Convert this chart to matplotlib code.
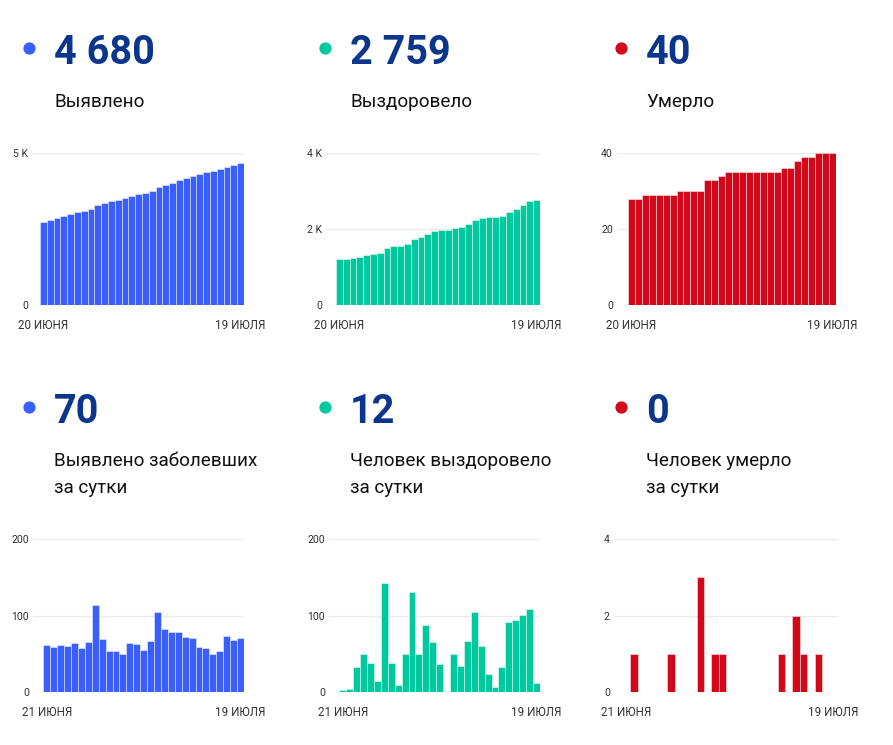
import matplotlib
matplotlib.use("Agg")
import matplotlib.pyplot as plt
from matplotlib.lines import Line2D

# ---- data ----
top_dates = ["20 ИЮНЯ", "19 ИЮЛЯ"]
bottom_dates = ["21 ИЮНЯ", "19 ИЮЛЯ"]

cases_total = [2744, 2805, 2864, 2926, 2986, 3050, 3108, 3173, 3287, 3356,
               3409, 3463, 3513, 3577, 3640, 3695, 3762, 3866, 3949, 4028,
               4107, 4179, 4249, 4308, 4366, 4416, 4469, 4542, 4610, 4680]
recovered_total = [1220, 1223, 1227, 1260, 1310, 1348, 1363, 1505, 1543, 1552,
                   1602, 1733, 1783, 1871, 1936, 1973, 1973, 2023, 2057, 2124,
                   2228, 2288, 2312, 2319, 2352, 2444, 2538, 2639, 2747, 2759]
deaths_total = [28, 28, 29, 29, 29, 29, 29, 30, 30, 30,
                30, 33, 33, 34, 35, 35, 35, 35, 35, 35,
                35, 35, 36, 36, 38, 39, 39, 40, 40, 40]

cases_daily = [61, 59, 62, 60, 64, 58, 65, 114, 69, 53,
               54, 50, 64, 63, 55, 67, 104, 83, 79, 79,
               72, 70, 59, 58, 50, 53, 73, 68, 70]
recovered_daily = [3, 4, 33, 50, 38, 15, 142, 38, 9, 50,
                   131, 50, 88, 65, 37, 0, 50, 34, 67, 104,
                   60, 24, 7, 33, 92, 94, 101, 108, 12]
deaths_daily = [0, 1, 0, 0, 0, 0, 1, 0, 0, 0,
                3, 0, 1, 1, 0, 0, 0, 0, 0, 0,
                0, 1, 0, 2, 1, 0, 1, 0, 0]

top_numbers = ["4 680", "2 759", "40"]
bottom_numbers = ["70", "12", "0"]
top_labels = [["Выявлено"], ["Выздоровело"], ["Умерло"]]
bottom_labels = [["Выявлено заболевших", "за сутки"],
                 ["Человек выздоровело", "за сутки"],
                 ["Человек умерло", "за сутки"]]

yticks = [[0, 5000], [0, 2000, 4000], [0, 20, 40],
          [0, 100, 200], [0, 100, 200], [0, 2, 4]]
ytick_labels = [["0", "5 K"], ["0", "2 K", "4 K"], ["0", "20", "40"],
                ["0", "100", "200"], ["0", "100", "200"], ["0", "2", "4"]]

colors = ["#3a5ffc", "#00c99f", "#d0081a"]
navy = "#0b368c"

W, H = 893, 745
plt.rcParams['font.family'] = ['Roboto', 'DejaVu Sans']
fig = plt.figure(figsize=(W / 100, H / 100), dpi=100)


def fx(x):
    return x / W


def fy(y):
    return 1 - y / H


# grid left, bar left, bar right, top value y, zero y (pixels)
boxes = [(32, 40, 244, 153, 305), (326, 336, 540, 153, 305), (617, 628, 836, 153, 305),
         (33, 43.3, 244, 539, 692), (329, 339.3, 540, 539, 692), (614, 623, 836.7, 539, 692)]
series = [cases_total, recovered_total, deaths_total,
          cases_daily, recovered_daily, deaths_daily]

for i, (vals, box) in enumerate(zip(series, boxes)):
    gl, bl, br, top, zero = box
    n = len(vals)
    unit = (br - bl) / n
    pad = (bl - gl) / unit
    ax = fig.add_axes([fx(gl), fy(zero), (br - gl) / W, (zero - top) / H])
    ax.bar(range(n), vals, width=1.0, color=colors[i % 3],
           edgecolor=(1, 1, 1, 0.45), linewidth=0.7, zorder=2)
    ax.set_xlim(-0.5 - pad, n - 0.5)
    ax.set_ylim(0, yticks[i][-1])
    ax.set_yticks(yticks[i], ytick_labels[i])
    dates = top_dates if i < 3 else bottom_dates
    ax.set_xticks([0, n - 1], dates)
    ax.grid(axis='y', color='#ebebeb', linewidth=1, zorder=0)
    ax.set_axisbelow(True)
    for s in ax.spines.values():
        s.set_visible(False)
    ax.tick_params(length=0, colors='#333333')
    ax.tick_params(axis='y', pad=3, labelsize=7.6)
    ax.tick_params(axis='x', pad=10, labelsize=8.4)

# headers
for row in range(2):
    dy = row * 359
    nums = top_numbers if row == 0 else bottom_numbers
    labs = top_labels if row == 0 else bottom_labels
    for col in range(3):
        dx = col * 296
        fig.add_artist(Line2D([fx(29 + dx)], [fy(47.7 + dy)], marker='o',
                              markersize=7.8, color=colors[col],
                              transform=fig.transFigure))
        fig.text(fx(54 + dx), fy(64 + dy), nums[col], fontsize=28.5,
                 fontweight='bold', color=navy, va='baseline', ha='left')
        for k, line in enumerate(labs[col]):
            fig.text(fx(54 + dx), fy(107 + dy + 27 * k), line, fontsize=13.6,
                     color='#111111', va='baseline', ha='left')

fig.savefig("out.png", dpi=100)
